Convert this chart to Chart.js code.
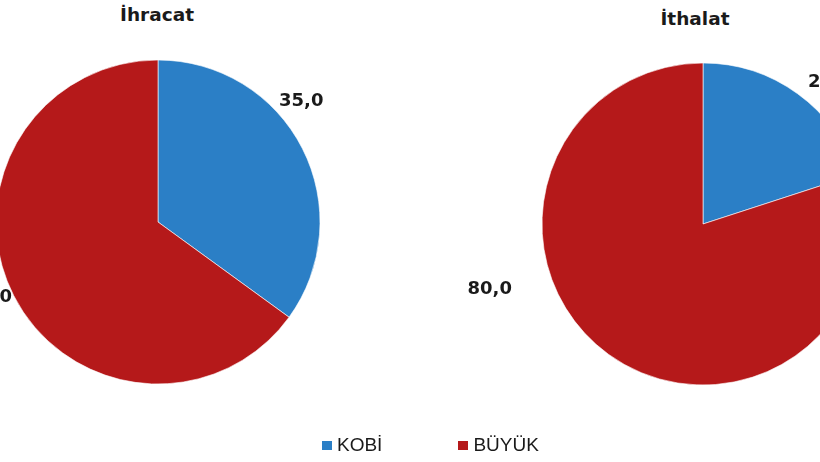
<!DOCTYPE html>
<html>
<head>
<meta charset="utf-8">
<script src="https://cdn.jsdelivr.net/npm/chart.js@4"></script>
<style>
  html, body { margin: 0; padding: 0; background: #fff; }
  body { width: 820px; height: 462px; overflow: hidden; position: relative; font-family: "Liberation Sans", Arial, sans-serif; }
  .pie { position: absolute; width: 500px; height: 500px; }
  #pieExport { left: -92px; top: -28px; }
  #pieImport { left: 453px; top: -26px; }
  .title { position: absolute; font-family: "DejaVu Sans", sans-serif; font-weight: bold; font-size: 18.5px; color: #1a1a1a; transform: translateX(-50%); white-space: nowrap; }
  #legend { position: absolute; top: 434px; left: 322px; display: flex; font-size: 19px; color: #1a1a1a; }
  #legend span.item { display: flex; align-items: center; margin-right: 76px; }
  #legend span.box { width: 10px; height: 9px; margin-right: 5px; display: inline-block; }
</style>
</head>
<body>
<div class="title" style="left:157px; top:4px;">İhracat</div>
<div class="title" style="left:695px; top:8px;">İthalat</div>
<div class="pie" id="pieExport"><canvas id="c1" width="500" height="500"></canvas></div>
<div class="pie" id="pieImport"><canvas id="c2" width="500" height="500"></canvas></div>
<div id="legend"></div>
<script>
// ---------- Data ----------
const categories = ["KOBİ", "BÜYÜK"];
const exportShare = [35.0, 65.0]; // İhracat
const importShare = [20.0, 80.0]; // İthalat
const colors = ["#2b7fc6", "#b5191a"];

// label placement (angle from top clockwise, distance in px from pie centre)
const exportLabelPos = [[50, 187], [246, 184]];
const importLabelPos = [[42, 190], [253, 223]];

const fmt = v => v.toFixed(1).replace(".", ",");

// ---------- Label plugin ----------
const pieLabels = {
  id: "pieLabels",
  afterDatasetsDraw(chart, args, opts) {
    const ctx = chart.ctx;
    const meta = chart.getDatasetMeta(0);
    const data = chart.data.datasets[0].data;
    ctx.save();
    ctx.font = "bold 18px 'DejaVu Sans', sans-serif";
    ctx.fillStyle = "#1a1a1a";
    ctx.textAlign = "center";
    ctx.textBaseline = "middle";
    meta.data.forEach((arc, i) => {
      const [deg, dist] = opts.pos[i];
      const a = deg * Math.PI / 180;
      const x = arc.x + dist * Math.sin(a);
      const y = arc.y - dist * Math.cos(a);
      ctx.fillText(fmt(data[i]), x, y);
    });
    ctx.restore();
  }
};

function makePie(id, values, pos, radius) {
  return new Chart(document.getElementById(id), {
    type: "pie",
    data: {
      labels: categories,
      datasets: [{
        data: values,
        backgroundColor: colors,
        borderColor: "rgba(255,255,255,0.6)",
        borderWidth: 1
      }]
    },
    options: {
      responsive: false,
      animation: false,
      radius: radius,
      layout: { padding: 0 },
      plugins: {
        legend: { display: false },
        tooltip: { enabled: false },
        pieLabels: { pos: pos }
      }
    },
    plugins: [pieLabels]
  });
}

makePie("c1", exportShare, exportLabelPos, 162);
makePie("c2", importShare, importLabelPos, 161);

// ---------- Legend ----------
const legend = document.getElementById("legend");
categories.forEach((c, i) => {
  const item = document.createElement("span");
  item.className = "item";
  const box = document.createElement("span");
  box.className = "box";
  box.style.background = colors[i];
  item.appendChild(box);
  item.appendChild(document.createTextNode(c));
  legend.appendChild(item);
});
</script>
</body>
</html>
